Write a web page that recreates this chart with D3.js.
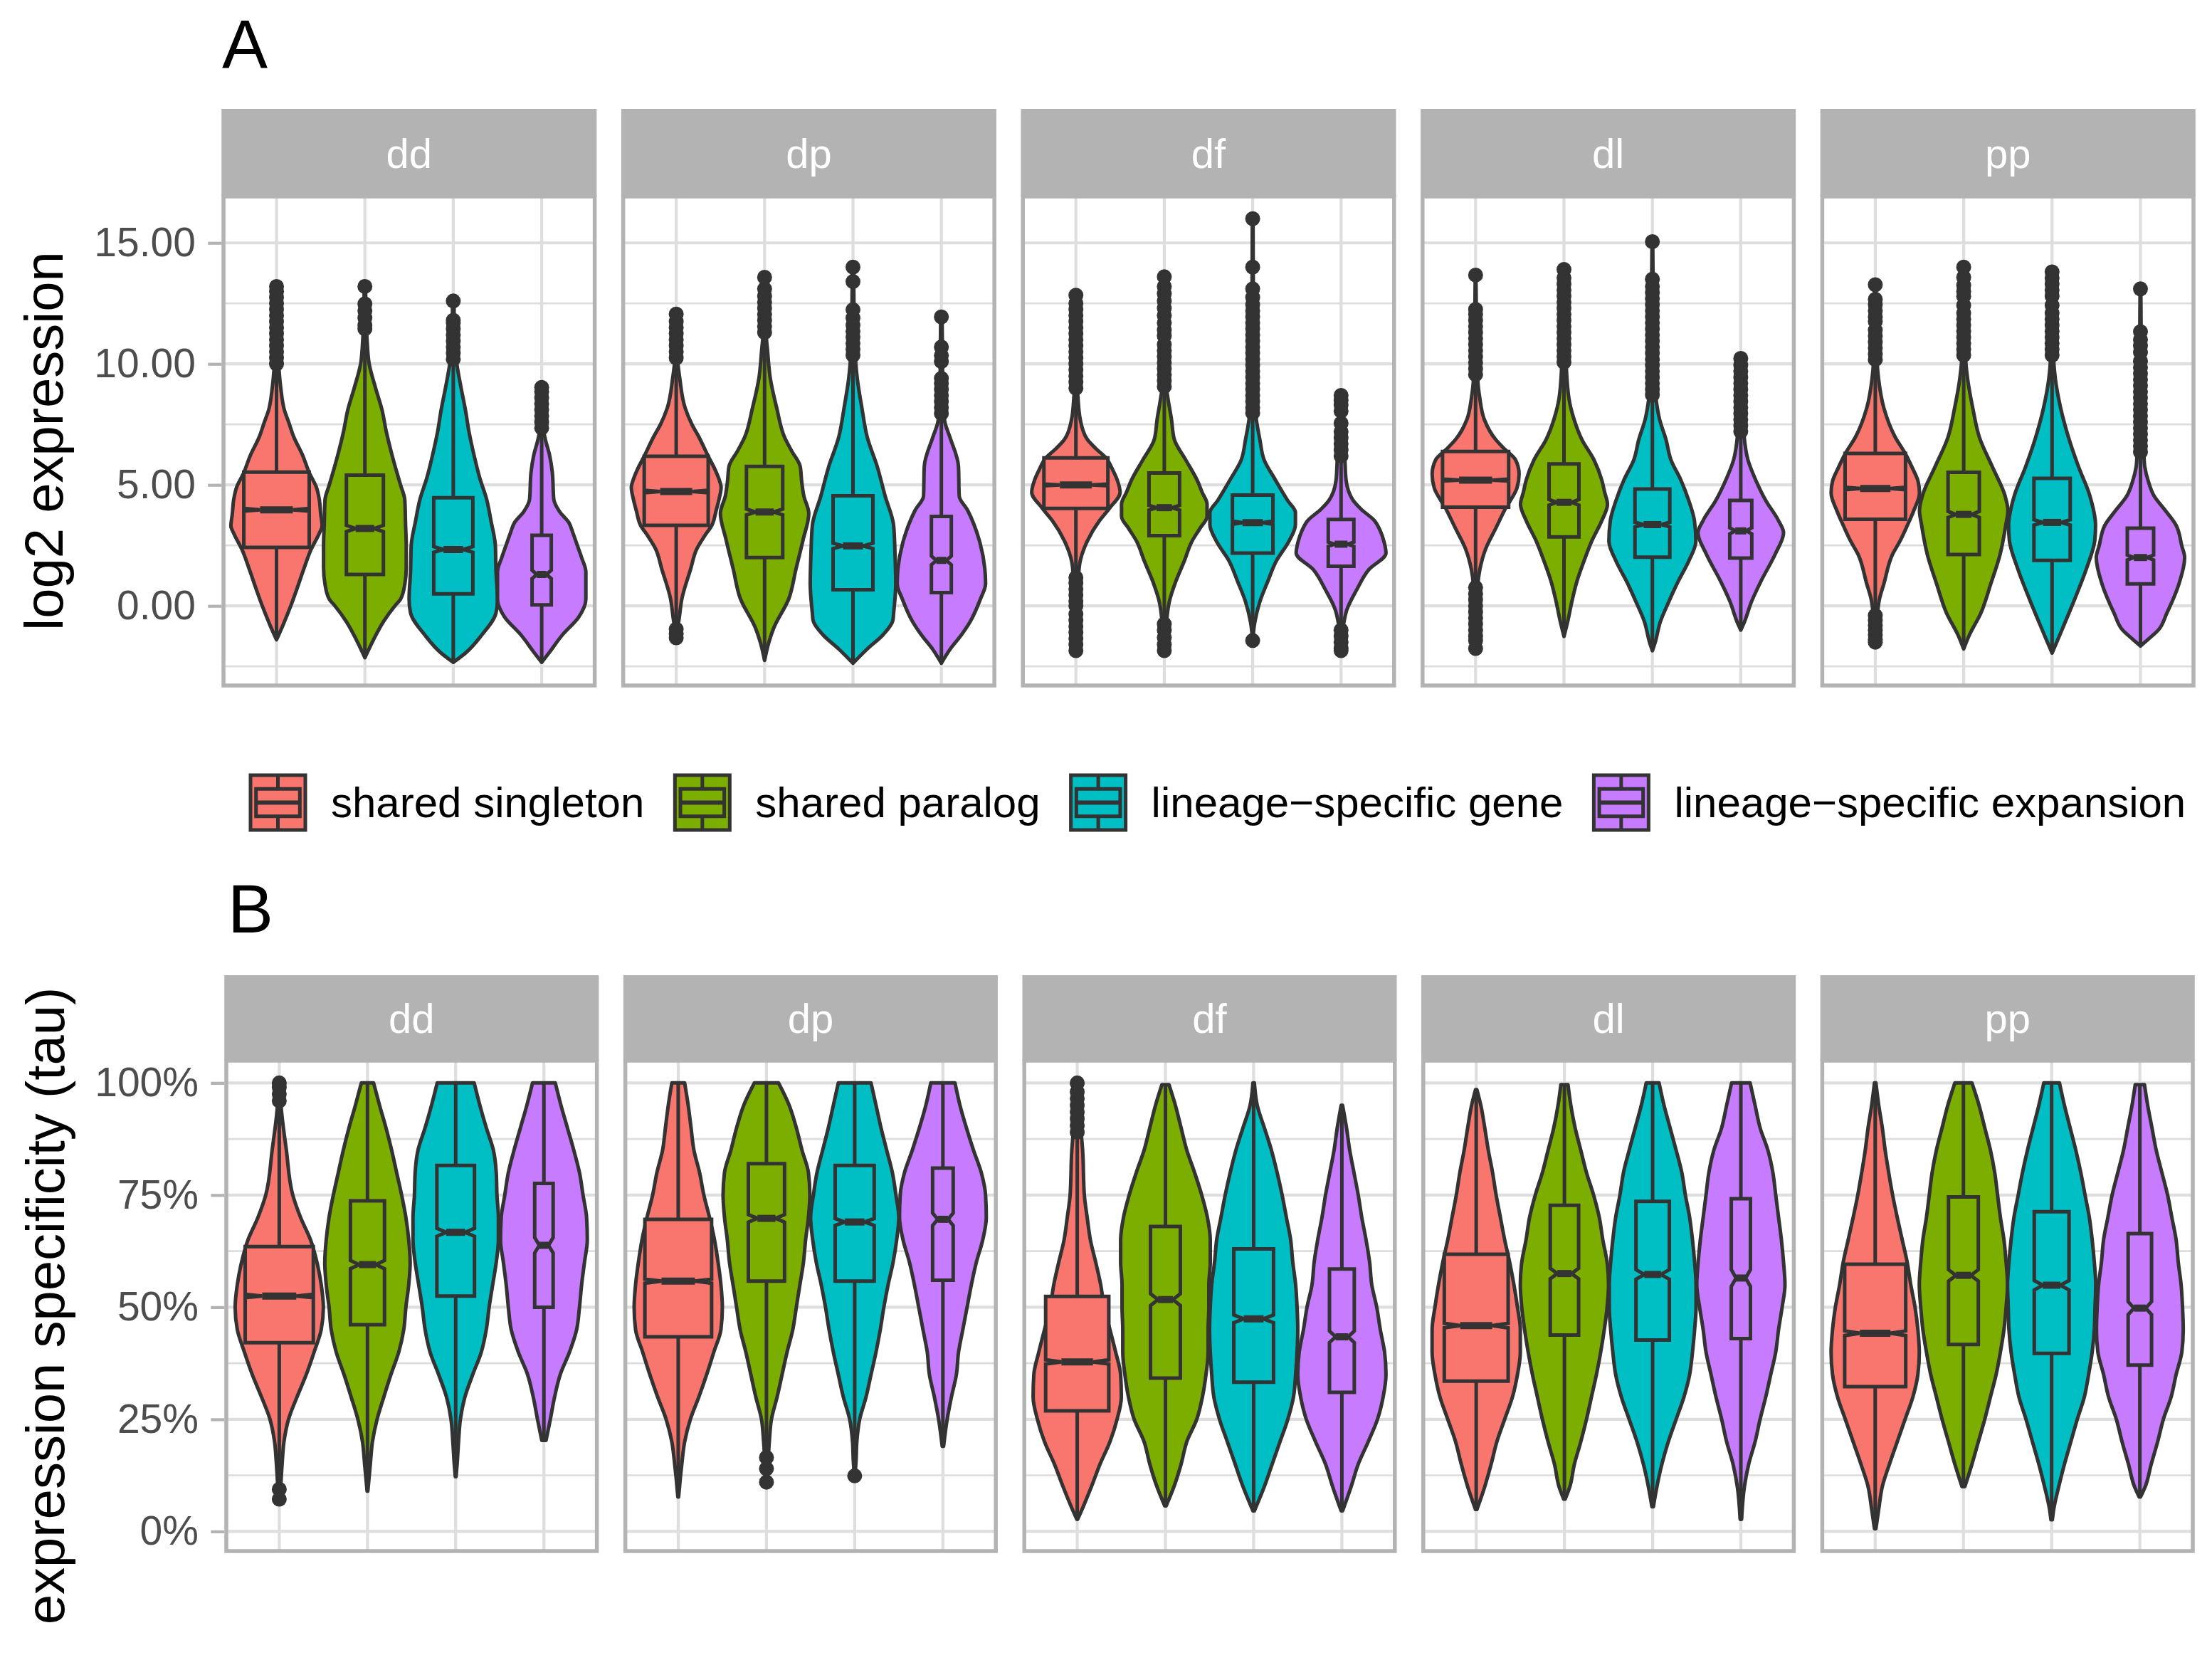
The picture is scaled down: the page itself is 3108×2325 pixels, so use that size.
<!DOCTYPE html>
<html><head><meta charset="utf-8">
<script src="https://cdn.jsdelivr.net/npm/d3@7"></script>
<style>body{margin:0;background:#fff} text{font-family:"Liberation Sans",Arial,Helvetica,sans-serif}</style>
</head><body><svg id="c" width="3108" height="2325"></svg>
<script>
// ---------------- DATA ----------------
const species = ["dd","dp","df","dl","pp"];
const categories = ["shared singleton","shared paralog","lineage\u2212specific gene","lineage\u2212specific expansion"];
const colors = ["#F8766D","#7CAE00","#00BFC4","#C77CFF"];

const exprTicks = [0,5,10,15];
const exprTickLabels = ["0.00","5.00","10.00","15.00"];
const exprMinor = [-2.5,2.5,7.5,12.5];
const tauTicks = [0,0.25,0.5,0.75,1];
const tauTickLabels = ["0%","25%","50%","75%","100%"];
const tauMinor = [0.125,0.375,0.625,0.875];

// box stats: [q1, median, q3, whiskerLow, whiskerHigh] per category
const exprBoxDD = [[2.42,3.97,5.53,-1.4,9.9],[1.30,3.20,5.40,-2.14,11.3],[0.50,2.33,4.47,-2.33,10.1],[0.04,1.30,2.92,-2.33,7.2]];
const exprBoxDP = [[3.33,4.73,6.18,-0.9,10.2],[2.0,3.88,5.76,-2.25,11.2],[0.67,2.48,4.55,-2.37,10.3],[0.55,1.88,3.70,-2.37,7.9]];
const exprBoxDF = [[4.03,5.0,6.12,1.3,8.9],[2.9,4.06,5.49,-0.7,9.0],[2.18,3.44,4.58,-1.0,7.9],[1.64,2.55,3.57,-0.9,6.1]];
const exprBoxDL = [[4.08,5.2,6.38,0.85,9.5],[2.85,4.28,5.87,-1.26,10.0],[2.01,3.36,4.83,-1.85,8.7],[1.98,3.1,4.36,-1.0,7.2]];
const exprBoxPP = [[3.58,4.85,6.3,-0.3,10.1],[2.12,3.78,5.52,-1.78,10.3],[1.88,3.45,5.27,-1.95,10.3],[0.91,2.0,3.21,-1.66,6.3]];
// number of genes per box (varwidth)
const exprN = [[8000,2556,2859,689],[7656,2458,2964,741],[7656,1748,3071,1225],[8175,1667,2269,908],[6829,1830,2458,1294]];

// violin density profiles: [value, relative density]
const exprDensDD = [
 [[-1.4,0],[-0.8,9],[0,20],[0.65,28],[1.5,38],[2.3,48],[3.0,60],[3.3,64],[3.8,62],[4.4,60],[4.9,56],[5.5,46],[6.2,37],[7.0,24],[7.6,17],[8.1,11],[9.0,6],[10,3],[11,2],[13.2,1]],
 [[-2.14,0],[-1.4,12],[-0.65,26],[0,42],[0.28,50],[0.9,56],[1.58,58],[2.5,58],[3.4,57],[4.38,56],[5.0,50],[5.5,45],[6.24,38],[7.2,30],[8.1,24],[9.0,15],[10,6],[11,3],[12,1.5],[13.2,1]],
 [[-2.33,0],[-1.95,17],[-1.2,40],[-0.28,60],[0.28,62],[1.4,60],[2.5,59],[3.5,53],[4.38,47],[5.3,37],[6.24,29],[7.2,22],[8.1,17],[9.0,11],[10,5],[11,2],[12.6,1]],
 [[-2.33,0],[-1.95,10],[-1.2,29],[-0.46,52],[0.28,62],[1.4,62],[2.0,56],[2.5,50],[3.0,44],[3.45,38],[3.9,25],[4.4,17],[5.5,15],[6.24,11],[6.9,5],[7.4,2],[9.03,1]]
];
const exprDensDP = [
 [[-1.32,0],[-0.55,4],[0.3,8],[1.5,20],[2.36,29],[2.9,40],[3.33,50],[3.94,56],[4.4,60],[4.9,63],[5.15,61],[5.6,55],[6.18,45],[6.97,32],[7.5,22],[8.18,12.5],[9.4,5],[10.2,2],[12.06,1]],
 [[-2.25,0],[-1.5,6],[-0.9,13],[0.3,34],[1.52,44],[2.73,54],[3.82,62],[4.55,55],[5.15,52],[5.76,50],[6.4,38],[6.97,28],[8.18,17],[9.4,8],[10.6,4],[11.3,2],[13.58,1]],
 [[-2.37,0],[-1.78,20],[-1.2,42],[-0.6,56],[-0.3,57],[0.91,60],[2.12,59],[3.33,57],[4.55,45],[5.76,34],[6.97,20],[8.18,12.5],[9.4,6],[10.0,4],[11,2],[14.0,1]],
 [[-2.37,0],[-1.8,12],[-1.2,28],[-0.67,40],[0.3,55],[0.91,62],[1.52,61],[2.73,53],[3.94,37],[4.55,25],[5.76,24],[6.97,12],[7.58,5],[8.4,2],[11.94,1]]
];
const exprDensDF = [
 [[-1.85,0],[0,1],[1.0,3],[1.85,6],[2.68,16],[3.52,33],[4.03,47],[4.7,62],[5.2,58],[5.6,52],[6.12,42],[6.5,28],[6.88,16],[7.72,6],[8.56,3],[9.3,1.5],[12.84,0.5]],
 [[-1.85,0],[-0.67,3],[0.17,7],[1.0,16],[1.85,28],[2.68,39],[3.2,50],[3.7,60],[4.2,60],[4.7,53],[5.2,46],[6.04,30],[6.88,14],[7.72,10],[8.6,5],[9.3,2],[13.6,0.5]],
 [[-1.43,0],[-0.67,3],[0.17,10],[1.0,21],[1.85,33],[2.68,51],[3.36,60],[3.86,60],[4.36,49],[5.2,32],[6.04,16],[6.88,10],[7.72,5],[8.5,2],[16.0,0.5]],
 [[-1.85,0],[-0.67,4],[-0.17,8],[0.67,22],[1.5,39],[2.18,63],[2.68,60],[3.1,55],[3.52,47],[4.0,28],[4.36,17],[5.2,7],[6.2,5],[7.0,2],[8.7,0.5]]
];
const exprDensDL = [
 [[-1.76,0],[0.84,3],[1.51,6],[2.35,14],[3.19,28],[4.03,42],[4.87,58],[5.45,61],[6.04,56],[6.5,40],[6.88,28],[7.72,12],[8.56,6],[9.4,3],[13.67,0.5]],
 [[-1.26,0],[-0.67,5],[0.17,11],[1.0,18],[1.85,28],[2.68,39],[3.52,53],[4.2,61],[4.7,57],[5.2,53],[6.04,42],[6.88,25],[7.72,14],[8.56,7],[10.07,3],[13.9,0.5]],
 [[-1.85,0],[-1.5,4],[-0.67,11],[0.17,23],[1.0,36],[1.85,51],[2.68,61],[3.52,59],[4.36,51],[5.2,40],[6.04,26],[6.88,19],[7.72,10],[8.56,5],[9.5,2],[15.05,0.5]],
 [[-1.0,0],[-0.67,5],[0.17,15],[1.0,28],[2.18,49],[3.02,60],[3.52,53],[4.36,35],[5.2,21],[6.04,10],[7.2,4],[7.9,2],[10.23,0.5]]
];
const exprDensPP = [
 [[-1.5,0],[-0.3,3],[0.3,6],[0.91,12],[2.12,24],[2.7,35],[3.33,45],[3.94,54],[4.67,62],[5.15,60],[5.7,52],[6.3,42],[6.97,28],[8.18,12],[9.4,4.5],[10.4,2],[13.27,0.5]],
 [[-1.78,0],[-1.2,8],[-0.3,24],[0.91,38],[2.12,51],[3.33,59],[3.94,62],[4.55,58],[5.76,40],[6.97,22],[8.18,12.7],[9.4,5.4],[10.6,2],[14.0,0.5]],
 [[-1.95,0],[-1.4,8],[-0.91,15],[0.3,32],[1.52,48],[2.73,60],[3.33,61],[4.55,53],[5.76,37],[6.97,23],[8.18,12],[9.4,4.5],[10.36,2],[13.8,0.5]],
 [[-1.66,0],[-1.4,10],[-1.0,25],[-0.3,37],[0.91,54],[2.0,62],[2.48,58],[3.33,50],[3.94,35],[4.55,19],[5.15,11],[5.76,6],[6.36,4.5],[7.0,2],[13.1,0.5]]
];
// outliers
const exprOutDD = [
 [10.0,10.25,10.5,10.75,11.0,11.25,11.5,11.75,12.0,12.25,12.5,12.75,13.0,13.2],
 [11.45,11.6,11.9,12.2,12.48,13.2],
 [10.2,10.45,10.7,10.95,11.2,11.45,11.7,11.8,12.6],
 [7.35,7.6,7.85,8.1,8.35,8.6,8.85,9.03]
];
const exprOutDP = [
 [10.25,10.5,10.75,11.0,11.25,11.5,11.75,12.06,-0.96,-1.15,-1.32],
 [11.3,11.55,11.8,12.05,12.3,12.55,12.8,13.1,13.58],
 [10.36,10.6,10.85,11.1,11.35,11.6,11.9,12.24,13.4,14.0],
 [7.95,8.2,8.45,8.7,8.95,9.2,9.4,10.1,10.35,10.7,11.94]
];
const exprOutDF = [
 [9.0,9.25,9.5,9.75,10.0,10.25,10.5,10.75,11.0,11.25,11.5,11.75,12.0,12.25,12.5,12.84,1.17,0.95,0.7,0.45,0.2,0.0,-0.34,-0.6,-0.85,-1.1,-1.35,-1.6,-1.85],
 [9.06,9.3,9.55,9.8,10.05,10.3,10.55,10.8,11.16,11.4,11.7,12.0,12.3,12.6,12.9,13.2,13.6,-0.75,-1.0,-1.3,-1.6,-1.85],
 [7.97,8.2,8.45,8.7,8.95,9.2,9.45,9.7,9.95,10.2,10.45,10.7,10.95,11.2,11.45,11.7,11.95,12.2,12.45,12.75,13.1,14.0,16.0,-1.43],
 [6.2,6.45,6.7,6.95,7.2,7.55,8.05,8.3,8.5,8.7,-1.0,-1.25,-1.5,-1.75,-1.85]
];
const exprOutDL = [
 [9.56,9.8,10.05,10.3,10.55,10.8,11.05,11.3,11.55,11.8,12.05,12.25,13.67,0.76,0.5,0.25,0.0,-0.25,-0.5,-0.75,-1.0,-1.25,-1.43,-1.76],
 [10.07,10.3,10.55,10.8,11.05,11.3,11.55,11.8,12.05,12.3,12.55,12.8,13.05,13.3,13.55,13.9],
 [8.72,8.95,9.2,9.45,9.7,9.95,10.2,10.45,10.7,10.95,11.2,11.45,11.7,11.95,12.2,12.45,12.7,12.95,13.2,13.5,15.05],
 [7.21,7.45,7.7,7.95,8.2,8.45,8.7,8.95,9.2,9.45,9.7,9.95,10.23]
];
const exprOutPP = [
 [10.18,10.4,10.65,10.9,11.15,11.4,11.76,11.94,12.2,12.45,12.67,13.27,-0.4,-0.6,-0.8,-1.0,-1.2,-1.4,-1.5],
 [10.36,10.6,10.85,11.1,11.35,11.6,11.85,12.1,12.42,12.79,13.0,13.25,13.58,14.0],
 [10.36,10.6,10.85,11.1,11.35,11.6,11.85,12.1,12.42,12.8,13.05,13.3,13.55,13.8],
 [6.36,6.6,6.85,7.1,7.35,7.6,7.85,8.1,8.35,8.6,8.85,9.1,9.35,9.6,9.85,10.12,10.48,10.75,11.0,11.33,13.1]
];

// ---- tau (expression specificity) ----
const tauBoxDD = [[0.421,0.525,0.635,0.10,0.955],[0.461,0.595,0.737,0.09,1.0],[0.525,0.667,0.816,0.122,1.0],[0.50,0.638,0.776,0.203,1.0]];
const tauBoxDP = [[0.434,0.558,0.696,0.077,1.0],[0.558,0.698,0.820,0.18,1.0],[0.558,0.690,0.816,0.16,1.0],[0.56,0.696,0.81,0.19,1.0]];
const tauBoxDF = [[0.269,0.378,0.524,0.027,0.88],[0.342,0.517,0.68,0.057,0.996],[0.333,0.474,0.63,0.046,1.0],[0.31,0.434,0.585,0.046,0.95]];
const tauBoxDL = [[0.335,0.459,0.618,0.049,0.985],[0.438,0.575,0.727,0.072,0.996],[0.427,0.573,0.736,0.055,1.0],[0.43,0.565,0.742,0.027,1.0]];
const tauBoxPP = [[0.323,0.442,0.596,0.006,1.0],[0.417,0.571,0.746,0.10,1.0],[0.397,0.549,0.713,0.026,1.0],[0.371,0.498,0.664,0.077,0.996]];
const tauN = [[8711,2178,2655,639],[8352,2458,2859,795],[7487,1667,2964,1158],[7656,1512,2088,689],[6990,1667,2269,1029]];

const tauDensDD = [
 [[0.07,0.5],[0.10,2],[0.15,4],[0.20,6.6],[0.25,13],[0.30,25],[0.35,38],[0.40,49],[0.45,59],[0.50,62],[0.55,59],[0.60,53],[0.65,44],[0.70,30],[0.75,19],[0.85,10],[0.95,2.5],[1.0,1]],
 [[0.09,0.5],[0.15,4],[0.20,7],[0.25,13.5],[0.30,23],[0.35,33],[0.40,44],[0.45,51],[0.50,54],[0.55,58],[0.60,60],[0.65,58],[0.70,54],[0.75,48],[0.80,41],[0.85,34],[0.90,26],[0.95,17],[1.0,8.6]],
 [[0.122,0.5],[0.15,2],[0.20,4],[0.25,6.6],[0.30,13],[0.35,24],[0.40,36],[0.45,43],[0.50,47],[0.55,52],[0.60,57],[0.65,60],[0.70,60],[0.75,58],[0.80,57],[0.85,53],[0.90,43],[0.95,34],[1.0,26]],
 [[0.203,3],[0.25,9],[0.30,15],[0.35,23],[0.40,36],[0.45,46],[0.50,50],[0.55,53],[0.60,57],[0.65,61],[0.70,60],[0.75,55],[0.80,50],[0.85,42],[0.90,33],[0.95,24],[1.0,16]]
];
const tauDensDP = [
 [[0.077,0.5],[0.12,3],[0.15,5],[0.20,9],[0.25,17],[0.30,29],[0.35,40],[0.40,50],[0.45,60],[0.50,62],[0.55,60],[0.60,56],[0.65,51],[0.70,44],[0.75,36],[0.80,30],[0.85,22],[0.90,18],[0.95,14],[1.0,9]],
 [[0.11,0.5],[0.15,2],[0.20,4],[0.25,7],[0.30,15],[0.35,22],[0.40,29],[0.45,37],[0.50,42],[0.55,47],[0.60,52],[0.65,55],[0.70,59],[0.75,61],[0.80,59],[0.85,50],[0.90,42],[0.95,32],[1.0,17]],
 [[0.124,0.5],[0.16,2],[0.20,3],[0.25,7],[0.30,16],[0.35,23],[0.40,30],[0.45,36],[0.50,41],[0.55,47],[0.60,54],[0.65,59],[0.70,62],[0.75,58],[0.80,53],[0.85,45],[0.90,37],[0.95,30],[1.0,23]],
 [[0.19,1],[0.25,6],[0.30,12],[0.35,19],[0.40,22],[0.45,28],[0.50,34],[0.55,40],[0.60,47],[0.65,56],[0.70,61],[0.75,60],[0.80,54],[0.85,43],[0.90,33],[0.95,24],[1.0,17]]
];
const tauDensDF = [
 [[0.027,0.5],[0.05,7],[0.10,20],[0.15,32],[0.20,46],[0.25,56],[0.30,62],[0.35,61],[0.40,54],[0.45,46],[0.50,38],[0.55,33],[0.60,26],[0.65,18.5],[0.70,14],[0.75,10],[0.85,7.6],[0.90,5],[0.95,3],[1.0,1]],
 [[0.057,1],[0.10,12],[0.15,22],[0.20,30],[0.25,44],[0.30,52],[0.35,57],[0.40,60],[0.45,60],[0.50,61],[0.55,61],[0.60,63],[0.65,63],[0.70,59],[0.75,51],[0.80,41],[0.85,30],[0.90,22],[0.95,14],[0.996,5]],
 [[0.046,1],[0.10,15],[0.15,26],[0.20,37],[0.25,48],[0.30,56],[0.35,59],[0.40,61],[0.45,62],[0.50,61],[0.55,59],[0.60,55],[0.65,52],[0.70,46],[0.75,40],[0.80,33],[0.85,25],[0.90,15],[0.95,5],[1.0,1]],
 [[0.046,1],[0.10,13],[0.15,23],[0.20,37],[0.25,50],[0.30,58],[0.35,62],[0.40,60],[0.45,54],[0.50,49],[0.55,42],[0.60,39],[0.65,34],[0.70,28],[0.75,23],[0.80,17],[0.85,11],[0.90,6.5],[0.95,1]]
];
const tauDensDL = [
 [[0.049,1],[0.10,12],[0.15,21],[0.20,29],[0.25,40],[0.30,51],[0.35,58],[0.40,62],[0.45,62],[0.50,58],[0.55,53],[0.60,47],[0.65,40],[0.70,34],[0.75,28],[0.80,23],[0.85,17],[0.90,12],[0.95,6.5],[0.985,1]],
 [[0.072,1],[0.10,7.6],[0.15,14],[0.20,23],[0.25,31],[0.30,38],[0.35,45],[0.40,51],[0.45,56],[0.50,60],[0.55,62],[0.60,60],[0.65,54],[0.70,49],[0.75,41],[0.80,31],[0.85,23],[0.90,15],[0.95,9],[0.996,5]],
 [[0.055,1],[0.10,6],[0.15,13],[0.20,22],[0.25,33],[0.30,44],[0.35,52],[0.40,56],[0.45,59],[0.50,61],[0.55,61],[0.60,59],[0.65,56],[0.70,52],[0.75,46],[0.80,41],[0.85,33],[0.90,24.5],[0.95,16],[1.0,9]],
 [[0.027,1],[0.10,5],[0.15,11],[0.20,20],[0.25,27],[0.30,35],[0.35,42],[0.40,49],[0.45,53],[0.50,58],[0.55,62],[0.60,60],[0.65,57],[0.70,53],[0.75,49],[0.80,45],[0.85,38],[0.90,27],[0.95,20],[1.0,13]]
];
const tauDensPP = [
 [[0.006,1],[0.05,5],[0.10,10],[0.15,20],[0.20,31],[0.25,42],[0.30,53],[0.35,60],[0.40,62],[0.45,60],[0.50,56],[0.55,50],[0.60,45],[0.65,38],[0.70,31],[0.75,24.5],[0.80,19],[0.85,14],[0.90,10],[0.95,5],[1.0,1]],
 [[0.10,2],[0.15,12],[0.20,21],[0.25,30],[0.30,38],[0.35,46],[0.40,52],[0.45,57],[0.50,60],[0.55,62],[0.60,60],[0.65,57],[0.70,52],[0.75,48],[0.80,44],[0.85,38],[0.90,30],[0.95,22],[1.0,12]],
 [[0.026,1],[0.05,3],[0.10,10],[0.15,18],[0.20,27],[0.25,36],[0.30,46],[0.35,52],[0.40,57],[0.45,60],[0.50,61],[0.55,62],[0.60,60],[0.65,57],[0.70,53],[0.75,47],[0.80,41],[0.85,34],[0.90,26],[0.95,18],[1.0,11]],
 [[0.077,1],[0.10,7.6],[0.15,16],[0.20,25],[0.25,33],[0.30,44],[0.35,51],[0.40,59],[0.45,61],[0.50,60],[0.55,58],[0.60,54],[0.65,51],[0.70,45],[0.75,39],[0.80,31],[0.85,23],[0.90,17],[0.95,11],[0.996,6.5]]
];
const tauOutDD = [[0.96,0.975,0.99,1.0,0.094,0.072],[],[],[]];
const tauOutDP = [[],[0.165,0.14,0.11],[0.124],[]];
const tauOutDF = [[0.89,0.905,0.92,0.935,0.95,0.965,0.98,1.0],[],[],[]];
const tauOutDL = [[],[],[],[]];
const tauOutPP = [[],[],[],[]];

// ---------------- DRAWING ----------------
const svg = d3.select("#c");
svg.append("rect").attr("width",3108).attr("height",2325).attr("fill","#fff");

const LINE = "#333333", GRID = "#DEDEDE", FRAME = "#B3B3B3";
const LW = 5;

function extentAll(dens, outs){
  const vals = [];
  dens.forEach(p => p.forEach(v => v.forEach(d => vals.push(d[0]))));
  outs.forEach(p => p.forEach(v => v.forEach(d => vals.push(d))));
  const [lo, hi] = d3.extent(vals); const pad = (hi - lo) * 0.05;
  return [lo - pad, hi + pad];
}

function drawPlot(cfg){
  const g = svg.append("g");
  const y = d3.scaleLinear().domain(extentAll(cfg.dens, cfg.outs)).range([cfg.bottom, cfg.top]);
  const x = d3.scalePoint().domain(categories).range([0, cfg.width]).padding(0.6);
  const step = x.step();
  const dScale = d3.scaleLinear().domain([0, 62]).range([0, 0.5 * step]);
  const nMax = 8000;
  const bwScale = d3.scaleSqrt().domain([0, nMax]).range([0, 0.74 * step]);

  species.forEach((sp, i) => {
    const left = cfg.left + i * (cfg.width + cfg.gap);
    const p = g.append("g").attr("transform", `translate(${left},0)`);
    // grid
    cfg.minor.forEach(v => p.append("line").attr("x1",0).attr("x2",cfg.width).attr("y1",y(v)).attr("y2",y(v))
      .attr("stroke",GRID).attr("stroke-width",2.8));
    cfg.ticks.forEach(v => p.append("line").attr("x1",0).attr("x2",cfg.width).attr("y1",y(v)).attr("y2",y(v))
      .attr("stroke",GRID).attr("stroke-width",4.2));
    categories.forEach(c => p.append("line").attr("x1",x(c)).attr("x2",x(c)).attr("y1",cfg.top).attr("y2",cfg.bottom)
      .attr("stroke",GRID).attr("stroke-width",4.2));

    categories.forEach((c, j) => {
      const cx = x(c);
      const prof = cfg.dens[i][j];
      const area = d3.area().curve(d3.curveMonotoneY)
        .y(d => y(d[0])).x0(d => cx - dScale(d[1])).x1(d => cx + dScale(d[1]));
      p.append("path").attr("d", area(prof)).attr("fill", colors[j])
        .attr("stroke", LINE).attr("stroke-width", LW).attr("stroke-linejoin","round");
    });
    categories.forEach((c, j) => {
      const cx = x(c);
      const [q1, med, q3, wlo, whi] = cfg.box[i][j];
      const n = cfg.n[i][j];
      const notch = 1.58 * (q3 - q1) / Math.sqrt(n);
      const hw = bwScale(n) / 2;
      const ind = hw * 0.5;
      p.append("line").attr("x1",cx).attr("x2",cx).attr("y1",y(q3)).attr("y2",y(whi)).attr("stroke",LINE).attr("stroke-width",LW);
      p.append("line").attr("x1",cx).attr("x2",cx).attr("y1",y(q1)).attr("y2",y(wlo)).attr("stroke",LINE).attr("stroke-width",LW);
      const pts = [[cx-hw,y(q3)],[cx-hw,y(med+notch)],[cx-hw+ind,y(med)],[cx-hw,y(med-notch)],[cx-hw,y(q1)],
                   [cx+hw,y(q1)],[cx+hw,y(med-notch)],[cx+hw-ind,y(med)],[cx+hw,y(med+notch)],[cx+hw,y(q3)]];
      p.append("path").attr("d", d3.line()(pts) + "Z").attr("fill", colors[j])
        .attr("stroke", LINE).attr("stroke-width", LW).attr("stroke-linejoin","miter");
      p.append("line").attr("x1",cx-hw+ind).attr("x2",cx+hw-ind).attr("y1",y(med)).attr("y2",y(med))
        .attr("stroke",LINE).attr("stroke-width",2*LW);
      cfg.outs[i][j].forEach(v => p.append("circle").attr("cx",cx).attr("cy",y(v)).attr("r",10.5).attr("fill",LINE));
    });
    // frame
    p.append("rect").attr("x",0).attr("y",cfg.top).attr("width",cfg.width).attr("height",cfg.bottom-cfg.top)
      .attr("fill","none").attr("stroke",FRAME).attr("stroke-width",5.5);
    // strip
    p.append("rect").attr("x",-2.75).attr("y",cfg.stripTop).attr("width",cfg.width+5.5).attr("height",cfg.top-cfg.stripTop)
      .attr("fill",FRAME);
    p.append("text").attr("x",cfg.width/2).attr("y",(cfg.stripTop+cfg.top)/2 + 21).attr("text-anchor","middle")
      .attr("fill","#fff").attr("font-size",58).text(sp);
    if (i === 0){
      const ax = p.append("g").call(d3.axisLeft(y).tickValues(cfg.ticks).tickFormat((d,k)=>cfg.tickLabels[k]).tickSize(19).tickPadding(20));
      ax.select(".domain").remove();
      ax.selectAll(".tick line").attr("stroke",FRAME).attr("stroke-width",4.2).attr("transform","translate(-2.75,0)");
      ax.selectAll(".tick text").attr("fill","#4D4D4D").attr("font-size",57).attr("font-family",'"Liberation Sans",Arial,sans-serif');
    }
  });
  const cy = (cfg.top + cfg.bottom) / 2;
  svg.append("text").attr("transform",`translate(${cfg.titleX},${cy}) rotate(-90)`).attr("text-anchor","middle")
    .attr("font-size",76).attr("fill","#000").text(cfg.title);
  svg.append("text").attr("x",cfg.labelX).attr("y",cfg.labelY).attr("font-size",96).attr("fill","#000").text(cfg.label);
}

drawPlot({
  left:314, width:521.6, gap:40, stripTop:153, top:276, bottom:963,
  ticks:exprTicks, tickLabels:exprTickLabels, minor:exprMinor,
  box:[exprBoxDD,exprBoxDP,exprBoxDF,exprBoxDL,exprBoxPP], n:exprN,
  dens:[exprDensDD,exprDensDP,exprDensDF,exprDensDL,exprDensPP],
  outs:[exprOutDD,exprOutDP,exprOutDF,exprOutDL,exprOutPP],
  title:"log2 expression", titleX:88, label:"A", labelX:312, labelY:95
});
drawPlot({
  left:318, width:520.6, gap:40, stripTop:1370, top:1490, bottom:2179,
  ticks:tauTicks, tickLabels:tauTickLabels, minor:tauMinor,
  box:[tauBoxDD,tauBoxDP,tauBoxDF,tauBoxDL,tauBoxPP], n:tauN,
  dens:[tauDensDD,tauDensDP,tauDensDF,tauDensDL,tauDensPP],
  outs:[tauOutDD,tauOutDP,tauOutDF,tauOutDL,tauOutPP],
  title:"expression specificity (tau)", titleX:90, label:"B", labelX:320, labelY:1310
});

// legend
const lg = svg.append("g");
let lx = 352; const ly = 1089, ks = 77;
categories.forEach((c, j) => {
  const k = lg.append("g").attr("transform",`translate(${lx},${ly})`);
  k.append("rect").attr("x",0).attr("y",0).attr("width",ks).attr("height",ks).attr("fill",colors[j]).attr("stroke",LINE).attr("stroke-width",5);
  k.append("line").attr("x1",ks/2).attr("x2",ks/2).attr("y1",0).attr("y2",ks*0.25).attr("stroke",LINE).attr("stroke-width",5);
  k.append("line").attr("x1",ks/2).attr("x2",ks/2).attr("y1",ks*0.75).attr("y2",ks).attr("stroke",LINE).attr("stroke-width",5);
  k.append("rect").attr("x",ks*0.1).attr("y",ks*0.25).attr("width",ks*0.8).attr("height",ks*0.5).attr("fill",colors[j]).attr("stroke",LINE).attr("stroke-width",5);
  k.append("line").attr("x1",ks*0.1).attr("x2",ks*0.9).attr("y1",ks/2).attr("y2",ks/2).attr("stroke",LINE).attr("stroke-width",6);
  const t = lg.append("text").attr("x",lx+ks+36).attr("y",1148).attr("font-size",60).attr("fill","#000").text(c);
  lx = lx + ks + 36 + t.node().getComputedTextLength() + 43;
});
</script></body></html>
